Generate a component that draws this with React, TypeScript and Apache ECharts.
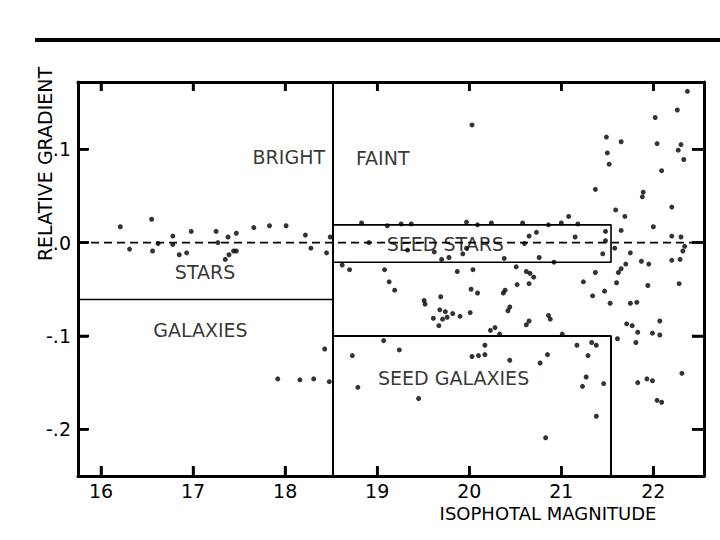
import React, { useEffect, useRef } from "react";
import * as echarts from "echarts";

// Axis ticks and labels
const xTickValues = [16, 17, 18, 19, 20, 21, 22];
const yTickValues = [0.1, 0, -0.1, -0.2];
const yTickLabels = [".1", ".0", "-.1", "-.2"];
const xRange = [15.75, 22.55];
const yRange = [-0.25, 0.172];

// Classification boundaries
const brightFaintCut = 18.52;
const seedMagLimit = 21.54;
const starGalaxyCut = -0.061;
const seedStarBand = [-0.021, 0.019];
const seedGalaxyTop = -0.1;

// Region labels
const regionNames = ["BRIGHT", "FAINT", "STARS", "GALAXIES", "SEED STARS", "SEED GALAXIES"];
const regionMag = [18.04, 19.06, 17.13, 17.08, 19.74, 19.83];
const regionGrad = [0.0916, 0.0906, -0.031, -0.094, -0.001, -0.1447];

// Objects brighter than the cut: [isophotal magnitude, relative gradient]
const brightObjects = [
  [16.21, 0.017], [16.55, 0.025], [16.31, -0.007], [16.56, -0.009], [16.62, -0.001],
  [16.78, 0.007], [16.78, -0.002], [16.85, -0.013], [16.93, -0.011], [16.98, 0.012],
  [17.25, 0.012], [17.27, 0.0], [17.38, 0.006], [17.47, 0.01], [17.35, -0.018],
  [17.39, -0.013], [17.44, -0.009], [17.47, -0.009], [17.66, 0.016], [17.83, 0.018],
  [18.01, 0.018], [18.22, 0.008], [18.28, -0.006], [18.45, -0.011], [18.49, 0.006],
  [17.92, -0.146], [18.16, -0.147], [18.31, -0.146], [18.43, -0.114], [18.48, -0.149],
];

// Objects fainter than the cut
const faintObjects = [
  [18.73, -0.121], [18.79, -0.155], [20.03, 0.126], [21.37, 0.057], [21.49, 0.113],
  [21.5, 0.096], [21.52, 0.084], [18.83, 0.021], [19.11, 0.018], [19.26, 0.02],
  [19.37, 0.02], [19.97, 0.022], [20.09, 0.019], [20.24, 0.021], [20.58, 0.021],
  [20.86, 0.019], [21.0, 0.021], [21.08, 0.028], [21.18, 0.02], [21.59, 0.035],
  [18.91, 0.0], [19.33, -0.008], [19.62, -0.01], [19.7, -0.018], [19.78, -0.016],
  [19.93, -0.012], [19.97, -0.006], [20.65, 0.007], [20.73, 0.011], [21.15, 0.006],
  [21.48, 0.012], [21.48, 0.002], [21.45, -0.012], [21.58, -0.006], [20.6, -0.001],
  [20.38, -0.017], [20.76, -0.016], [20.92, -0.021], [18.62, -0.024], [18.7, -0.029],
  [19.08, -0.029], [19.13, -0.042], [19.19, -0.051], [19.87, -0.031], [20.04, -0.029],
  [20.51, -0.026], [20.62, -0.031], [20.66, -0.033], [20.7, -0.037], [20.52, -0.045],
  [20.65, -0.044], [20.39, -0.051], [20.37, -0.054], [20.02, -0.05], [20.09, -0.054],
  [19.51, -0.062], [19.52, -0.066], [19.69, -0.058], [19.68, -0.072], [19.74, -0.074],
  [19.61, -0.081], [19.71, -0.082], [19.76, -0.08], [19.82, -0.076], [19.9, -0.079],
  [20.01, -0.075], [19.67, -0.089], [20.23, -0.094], [20.28, -0.091], [20.33, -0.098],
  [20.44, -0.069], [20.42, -0.073], [20.86, -0.078], [20.88, -0.082], [20.65, -0.084],
  [20.62, -0.088], [21.01, -0.098], [21.24, -0.042], [21.37, -0.032], [21.62, -0.032],
  [21.6, -0.043], [21.47, -0.052], [21.34, -0.057], [21.53, -0.065], [19.07, -0.105],
  [19.24, -0.115], [20.17, -0.11], [20.03, -0.122], [20.1, -0.121], [20.17, -0.12],
  [20.44, -0.126], [20.85, -0.12], [20.77, -0.129], [21.17, -0.11], [21.33, -0.107],
  [21.38, -0.11], [21.29, -0.121], [21.61, -0.103], [19.45, -0.167], [21.27, -0.144],
  [21.23, -0.154], [21.46, -0.151], [21.38, -0.186], [20.83, -0.209],
  [22.37, 0.162], [22.26, 0.142], [22.02, 0.134], [21.65, 0.108], [22.04, 0.106],
  [22.3, 0.105], [22.27, 0.099], [22.33, 0.089], [22.09, 0.077], [21.89, 0.054],
  [21.88, 0.049], [22.2, 0.038], [21.69, 0.028], [21.65, 0.013], [22.0, 0.017],
  [22.2, 0.007], [22.3, 0.006], [21.75, -0.011], [22.34, -0.004], [22.32, -0.009],
  [22.2, -0.019], [22.29, -0.018], [21.87, -0.02], [21.95, -0.023], [21.7, -0.023],
  [21.65, -0.028], [21.94, -0.046], [22.28, -0.044], [21.75, -0.065], [21.82, -0.064],
  [22.07, -0.084], [21.71, -0.087], [21.77, -0.089], [21.83, -0.096], [21.99, -0.097],
  [22.07, -0.099], [21.81, -0.107], [21.93, -0.146], [21.99, -0.148], [22.31, -0.14],
  [21.83, -0.15], [22.04, -0.169], [22.09, -0.171],
];

const FONT = "DejaVu Sans";
const GRID = { left: 78, right: 16, top: 82, bottom: 64 };
const PLOT_W = 720 - GRID.left - GRID.right;
const PLOT_H = 540 - GRID.top - GRID.bottom;

export default function App() {
  const ref = useRef<HTMLDivElement>(null);
  useEffect(() => {
    if (!ref.current) return;
    const chart = echarts.init(ref.current, null, { renderer: "svg" });
    const lineStyle = { color: "#000", width: 1.6 };
    const boundary = (data: number[][], extra: any = {}) => ({
      type: "line",
      data,
      symbol: "none",
      silent: true,
      lineStyle: { ...lineStyle, ...extra },
      z: 2,
    });
    const tick = (len: number, values: number[]) => ({
      show: true,
      inside: true,
      length: len,
      customValues: values,
      lineStyle: { color: "#000", width: 2.5 },
    });
    // inward frame ticks expressed in data units (10 px long)
    const tickDy = ((yRange[1] - yRange[0]) * 10) / PLOT_H;
    const tickDx = ((xRange[1] - xRange[0]) * 11) / PLOT_W;
    const tickSeries = [
      ...xTickValues.map((x) => boundary([[x, yRange[0]], [x, yRange[0] + tickDy]], { width: 2.5 })),
      ...xTickValues.map((x) => boundary([[x, yRange[1]], [x, yRange[1] - tickDy * 0.9]], { width: 2.5 })),
      ...yTickValues.map((y) => boundary([[xRange[0], y], [xRange[0] + tickDx, y]], { width: 2.5 })),
      ...yTickValues.map((y) => boundary([[xRange[1], y], [xRange[1] - tickDx * 1.1, y]], { width: 2.5 })),
    ];
    const line = { show: true, onZero: false, lineStyle: { color: "#000", width: 3 } };
    chart.setOption({
      animation: false,
      backgroundColor: "#fff",
      textStyle: { fontFamily: FONT },
      grid: GRID,
      xAxis: [
        {
          type: "value",
          position: "bottom",
          min: xRange[0],
          max: xRange[1],
          axisLine: line,
          splitLine: { show: false },
          axisTick: tick(10, xTickValues),
          axisLabel: {
            customValues: xTickValues,
            formatter: (v: number) => String(v),
            color: "#000",
            fontSize: 19,
            fontFamily: FONT,
            margin: 5,
          },
        },
        {
          type: "value",
          position: "top",
          min: xRange[0],
          max: xRange[1],
          axisLine: line,
          splitLine: { show: false },
          axisTick: tick(9, xTickValues),
          axisLabel: { show: false },
        },
      ],
      yAxis: [
        {
          type: "value",
          position: "left",
          min: yRange[0],
          max: yRange[1],
          axisLine: line,
          splitLine: { show: false },
          axisTick: tick(10, yTickValues),
          axisLabel: {
            customValues: yTickValues,
            formatter: (v: number) => {
              const i = yTickValues.findIndex((t) => Math.abs(t - v) < 1e-9);
              return i >= 0 ? yTickLabels[i] : "";
            },
            color: "#000",
            fontSize: 19,
            fontFamily: FONT,
            margin: 7,
          },
        },
        {
          type: "value",
          position: "right",
          min: yRange[0],
          max: yRange[1],
          axisLine: line,
          splitLine: { show: false },
          axisTick: tick(12, yTickValues),
          axisLabel: { show: false },
        },
      ],
      series: [
        ...tickSeries,
        boundary([[brightFaintCut, yRange[0]], [brightFaintCut, yRange[1]]], { width: 2 }),
        boundary([[xRange[0], starGalaxyCut], [brightFaintCut, starGalaxyCut]]),
        boundary([
          [brightFaintCut, seedStarBand[1]],
          [seedMagLimit, seedStarBand[1]],
          [seedMagLimit, seedStarBand[0]],
          [brightFaintCut, seedStarBand[0]],
        ]),
        boundary([
          [brightFaintCut, seedGalaxyTop],
          [seedMagLimit, seedGalaxyTop],
          [seedMagLimit, yRange[0]],
        ], { width: 2 }),
        boundary([[xRange[0], 0], [xRange[1], 0]], { type: [8, 5], width: 1.6 }),
        {
          type: "scatter",
          data: regionNames.map((n, i) => ({ name: n, value: [regionMag[i], regionGrad[i]] })),
          symbolSize: 0,
          silent: true,
          z: 3,
          label: {
            show: true,
            position: "inside",
            formatter: "{b}",
            color: "#000",
            fontSize: 19,
            fontFamily: FONT,
          },
        },
        {
          type: "scatter",
          data: brightObjects,
          symbol: "circle",
          symbolSize: 5,
          itemStyle: { color: "#000" },
          z: 5,
        },
        {
          type: "scatter",
          data: faintObjects,
          symbol: "circle",
          symbolSize: 5,
          itemStyle: { color: "#000" },
          z: 5,
        },
      ],
      graphic: [
        { type: "rect", shape: { x: 35, y: 38, width: 685, height: 4 }, style: { fill: "#000" } },
        {
          type: "text",
          x: 45,
          y: 164,
          rotation: Math.PI / 2,
          style: {
            text: "RELATIVE GRADIENT",
            fontSize: 19,
            fontFamily: FONT,
            fill: "#000",
            align: "center",
            verticalAlign: "middle",
          },
        },
        {
          type: "text",
          x: 548,
          y: 513,
          style: {
            text: "ISOPHOTAL MAGNITUDE",
            fontSize: 18,
            fontFamily: FONT,
            fill: "#000",
            align: "center",
            verticalAlign: "middle",
          },
        },
      ],
    });
    return () => chart.dispose();
  }, []);
  return (
    <div
      ref={ref}
      style={{ position: "fixed", left: 0, top: 0, width: 720, height: 540, background: "#fff" }}
    />
  );
}
